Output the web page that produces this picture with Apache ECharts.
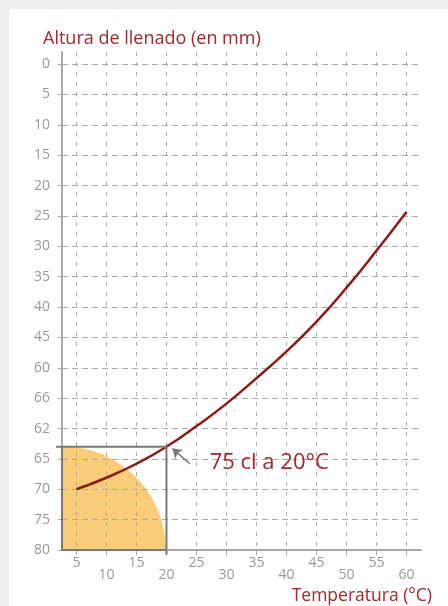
<!DOCTYPE html>
<html>
<head>
<meta charset="utf-8">
<script src="https://cdn.jsdelivr.net/npm/echarts@6/dist/echarts.min.js"></script>
<style>
  html, body { margin: 0; padding: 0; background: #ededed; }
  #wrap { position: absolute; left: 9px; top: 9px; width: 439px; height: 597px; background: #fff; }
  #chart { position: absolute; left: -9px; top: -9px; width: 448px; height: 606px; }
</style>
</head>
<body>
<div id="wrap"><div id="chart"></div></div>
<script>
// curve: temperature (°C) -> fill height (mm)
var temps   = [5, 10, 15, 20, 25, 30, 35, 40, 45, 50, 55, 60];
var heights = [70, 68.1, 65.8, 63, 59.6, 55.9, 51.7, 47.3, 42.4, 36.8, 30.7, 24.3];

var xTicks = [5, 10, 15, 20, 25, 30, 35, 40, 45, 50, 55, 60];
var yTicks = [0, 5, 10, 15, 20, 25, 30, 35, 40, 45, 50, 55, 60, 65, 70, 75, 80];
var yTickLabels = ['0', '5', '10', '15', '20', '25', '30', '35', '40', '45', '60', '66', '62', '65', '70', '75', '80'];

// reference point 75 cl a 20°C
var refPoint = [20, 63];
var arrowFrom = [23.9, 65.8];
var arrowTo = [21.0, 63.3];
var noteAt = [27.2, 65.6];

var X_MIN = 2.6, X_MAX = 62.4, Y_MIN = -2, Y_MAX = 80;
var FONT = '"Open Sans", sans-serif';
var RED = '#a3282b';

var chart = echarts.init(document.getElementById('chart'), null, { renderer: 'canvas' });

var option = {
  backgroundColor: 'transparent',
  animation: false,
  title: [
    { text: 'Altura de llenado (en mm)', left: 38, top: 25,
      textStyle: { color: RED, fontFamily: FONT, fontSize: 18, fontWeight: 'normal' } },
    { text: 'Temperatura (°C)', right: 11, top: 582,
      textStyle: { color: RED, fontFamily: FONT, fontSize: 17.5, fontWeight: 'normal' } }
  ],
  grid: { left: 62, right: 27, top: 52, bottom: 56 },
  xAxis: {
    type: 'value', min: X_MIN, max: X_MAX,
    axisLine: { show: true, onZero: false, lineStyle: { color: '#a8a8a8', width: 2 } },
    axisTick: { show: true, length: 5, customValues: xTicks, lineStyle: { color: '#aaa', width: 1 } },
    axisLabel: {
      customValues: xTicks, margin: 7, color: '#999', fontFamily: FONT, fontSize: 14, lineHeight: 12,
      formatter: function (v) { return v % 10 === 0 ? '\n' + v : String(v); }
    },
    splitLine: { show: true, lineStyle: { color: '#aaa', width: 1, type: [4, 6] } }
  },
  yAxis: {
    type: 'value', inverse: true, min: Y_MIN, max: Y_MAX,
    axisLine: { show: true, onZero: false, lineStyle: { color: '#a8a8a8', width: 2 } },
    axisTick: { show: true, length: 4, customValues: yTicks, lineStyle: { color: '#aaa', width: 1 } },
    axisLabel: {
      customValues: yTicks, margin: 12, color: '#999', fontFamily: FONT, fontSize: 14,
      formatter: function (v) { return yTickLabels[yTicks.indexOf(v)]; }
    },
    splitLine: { show: true, lineStyle: { color: '#aaa', width: 1, type: [6, 4] } }
  },
  series: [
    {
      // orange quarter disc under the reference box
      type: 'custom', z: -1, silent: true,
      data: [[X_MIN, Y_MAX, refPoint[0], refPoint[1]]],
      renderItem: function (params, api) {
        var c = api.coord([api.value(0), api.value(1)]);
        var px = api.coord([api.value(2), api.value(1)]);
        var py = api.coord([api.value(0), api.value(3)]);
        var r = ((px[0] - c[0]) + (c[1] - py[1])) / 2;
        return {
          type: 'sector',
          shape: { cx: c[0], cy: c[1], r0: 0, r: r, startAngle: -Math.PI / 2, endAngle: 0, clockwise: true },
          style: { fill: '#f9cd78' }
        };
      }
    },
    {
      type: 'line', smooth: true, symbol: 'none', z: 3,
      data: temps.map(function (t, i) { return [t, heights[i]]; }),
      lineStyle: { color: '#8b1b17', width: 2.5 },
      markLine: {
        silent: true, symbol: ['none', 'arrow'], symbolSize: 9,
        label: { show: false },
        lineStyle: { color: '#777', width: 1.5, type: 'solid' },
        data: [[{ coord: arrowFrom }, { coord: arrowTo }]]
      },
      markPoint: {
        silent: true, symbolSize: 0,
        data: [{ coord: noteAt, value: '75 cl a 20°C' }],
        label: { show: true, position: 'inside', align: 'left', verticalAlign: 'middle',
          color: RED, fontFamily: FONT, fontSize: 22, formatter: '{c}' }
      }
    },
    {
      // gray reference box
      type: 'custom', z: 4, silent: true,
      data: [[X_MIN, Y_MAX, refPoint[0], refPoint[1]]],
      renderItem: function (params, api) {
        var bl = api.coord([api.value(0), api.value(1)]);
        var tr = api.coord([api.value(2), api.value(3)]);
        var st = { stroke: '#7a7a7a', lineWidth: 2, fill: null };
        return {
          type: 'group',
          children: [
            { type: 'polyline', shape: { points: [[bl[0] - 6, tr[1]], [tr[0], tr[1]], [tr[0], bl[1] + 5]] }, style: st },
            { type: 'polyline', shape: { points: [[bl[0], tr[1]], [bl[0], bl[1]], [tr[0], bl[1]]] }, style: st }
          ]
        };
      }
    }
  ]
};
chart.setOption(option);
</script>
</body>
</html>
